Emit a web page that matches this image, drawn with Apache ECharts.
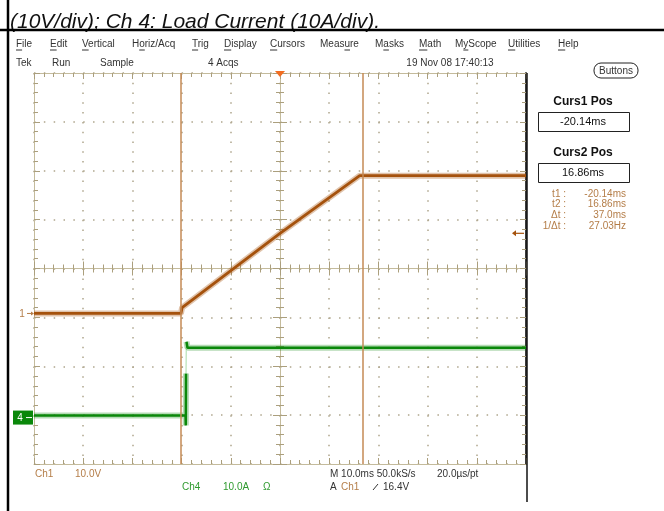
<!DOCTYPE html>
<html>
<head>
<meta charset="utf-8">
<script src="https://cdn.jsdelivr.net/npm/echarts@6/dist/echarts.min.js"></script>
<style>
  html, body { margin: 0; padding: 0; background: #fff; }
  #main { width: 664px; height: 511px; }
</style>
</head>
<body>
<div id="main"></div>
<script>
// ---- data ----
// time in ms (10 ms/div, trigger at 0)
var ch1Time = [-50, -20.14, -19.9, 0, 16.2, 50];
var ch1Volts = [0, 0, 1.2, 16.4, 28.2, 28.2];          // Ch1 10 V/div
var ch4LowTime = [-50, -19.2, -19.15, -19.1];
var ch4LowAmps = [0.4, 0.4, -1.6, 9.0];                // Ch4 10 A/div
var ch4EdgeTime = [-19.1, -19.05];
var ch4EdgeAmps = [9.0, 15.5];
var ch4HighTime = [-19.0, -18.8, 50];
var ch4HighAmps = [15.5, 14.3, 14.3];
var cursorTimes = [-20.14, 16.86];
var triggerLevel = 16.4;   // V on Ch1
var ch1GroundDiv = -0.92;  // ground marker, divisions from centre
var ch4GroundDiv = -3.05;

var menuItems = ["File", "Edit", "Vertical", "Horiz/Acq", "Trig", "Display", "Cursors",
  "Measure", "Masks", "Math", "MyScope", "Utilities", "Help"];
var menuX = [16, 50, 82, 132, 192, 224, 270, 320, 375, 419, 455, 508, 558];
var menuUnderline = [0, 0, 0, 1, 0, 0, 0, 4, 1, 0, 1, 0, 0];
var cursorLabels = ["t1 :", "t2 :", "\u0394t :", "1/\u0394t :"];
var cursorValues = ["-20.14ms", "16.86ms", "37.0ms", "27.03Hz"];

var GRAT = "#c4bb9c";
var TICK = "#ab9f7d";
var DOT = "#aea58c";
var BROWN = "#a5520d";
var TAN = "#b47d48";
var CURSOR = "#c58a55";
var GREEN = "#0a880a";
var LGREEN = "#2f9a2f";
var TXT = "#333";
var UI_FONT = "10px 'Liberation Sans', Arial, sans-serif";

function pairs(xs, ys, f) {
  return xs.map(function (x, i) { return [x, f ? f(ys[i]) : ys[i]]; });
}

function axis(base, extra) {
  return echarts.util.merge(echarts.util.clone(base), extra, true);
}

var tickBase = {
  axisLabel: { show: false },
  splitLine: { show: false },
  axisLine: { show: true, onZero: false, lineStyle: { color: GRAT, width: 1 } },
  axisTick: { show: true, inside: true, length: 6, lineStyle: { color: TICK, width: 1 } },
  minorTick: { show: true, splitNumber: 5, length: 4, lineStyle: { color: TICK, width: 1 } }
};
var xBase = axis(tickBase, { type: "value", min: -50, max: 50, interval: 10 });
var yBase = axis(tickBase, { type: "value", min: -4, max: 4, interval: 1 });

var chart = echarts.init(document.getElementById("main"));

var option = {
  backgroundColor: "#fff",
  animation: false,
  grid: { left: 34, top: 73, width: 492, height: 391, containLabel: false },
  xAxis: [
    axis(xBase, { position: "bottom",
      splitLine: { show: true, lineStyle: { color: DOT, width: 1.5, type: [1.5, 8.28] } } }),
    axis(xBase, { position: "top" }),
    axis(xBase, { position: "bottom", axisLine: { onZero: true, onZeroAxisIndex: 0 },
      axisTick: { length: 7 } }),
    axis(xBase, { position: "bottom", axisLine: { onZero: true, onZeroAxisIndex: 0 },
      axisTick: { inside: false, length: 7 }, minorTick: { length: 4 } })
  ],
  yAxis: [
    axis(yBase, { position: "left",
      splitLine: { show: true, lineStyle: { color: DOT, width: 1.5, type: [1.5, 8.34] } } }),
    axis(yBase, { position: "right", axisLine: { lineStyle: { color: "#3a3a3a", width: 2 } } }),
    axis(yBase, { position: "left", axisLine: { onZero: true, onZeroAxisIndex: 0 },
      axisTick: { length: 7 } }),
    axis(yBase, { position: "left", axisLine: { onZero: true, onZeroAxisIndex: 0 },
      axisTick: { inside: false, length: 7 } }),
    // Ch1 volts: 10 V/div, ground at ch1GroundDiv
    { type: "value", show: false, min: (-4 - ch1GroundDiv) * 10, max: (4 - ch1GroundDiv) * 10 },
    // Ch4 amps: 10 A/div, ground at ch4GroundDiv
    { type: "value", show: false, min: (-4 - ch4GroundDiv) * 10, max: (4 - ch4GroundDiv) * 10 }
  ],
  series: [
    {
      type: "line", xAxisIndex: 0, yAxisIndex: 4, silent: true, showSymbol: false,
      data: pairs(ch1Time, ch1Volts),
      lineStyle: { color: CURSOR, width: 0 },
      markLine: {
        silent: true, symbol: ["none", "none"], label: { show: false },
        lineStyle: { color: CURSOR, width: 1.5, type: "solid" },
        data: cursorTimes.map(function (t) { return { xAxis: t }; })
      }
    },
    { type: "line", xAxisIndex: 0, yAxisIndex: 4, silent: true, showSymbol: false,
      data: pairs(ch1Time, ch1Volts), lineStyle: { color: BROWN, width: 6, opacity: 0.35 } },
    { type: "line", xAxisIndex: 0, yAxisIndex: 4, silent: true, showSymbol: false,
      data: pairs(ch1Time, ch1Volts), lineStyle: { color: BROWN, width: 2.8 } },
    { type: "line", xAxisIndex: 0, yAxisIndex: 5, silent: true, showSymbol: false,
      data: pairs(ch4LowTime, ch4LowAmps), lineStyle: { color: GREEN, width: 6, opacity: 0.3 } },
    { type: "line", xAxisIndex: 0, yAxisIndex: 5, silent: true, showSymbol: false,
      data: pairs(ch4LowTime, ch4LowAmps), lineStyle: { color: GREEN, width: 2.5 } },
    { type: "line", xAxisIndex: 0, yAxisIndex: 5, silent: true, showSymbol: false,
      data: pairs(ch4EdgeTime, ch4EdgeAmps), lineStyle: { color: "#a8dca8", width: 1 } },
    { type: "line", xAxisIndex: 0, yAxisIndex: 5, silent: true, showSymbol: false,
      data: pairs(ch4HighTime, ch4HighAmps), lineStyle: { color: GREEN, width: 6, opacity: 0.3 } },
    { type: "line", xAxisIndex: 0, yAxisIndex: 5, silent: true, showSymbol: false,
      data: pairs(ch4HighTime, ch4HighAmps), lineStyle: { color: GREEN, width: 2.5 } }
  ]
};
chart.setOption(option);

// ---- screen furniture, placed from the library's own scales ----
var ch1Zero = chart.convertToPixel({ yAxisIndex: 4 }, 0);
var ch4Zero = chart.convertToPixel({ yAxisIndex: 5 }, 0);
var trigY = chart.convertToPixel({ yAxisIndex: 4 }, triggerLevel);
var trigX = chart.convertToPixel({ xAxisIndex: 0 }, 0);
var gridRight = chart.convertToPixel({ xAxisIndex: 0 }, 50);

var measure = document.createElement("canvas").getContext("2d");
measure.font = UI_FONT;

function text(str, x, y, opts) {
  opts = opts || {};
  return {
    type: "text", silent: true, z: 100,
    style: {
      text: str, x: x, y: y,
      fill: opts.fill || TXT,
      font: opts.font || UI_FONT,
      align: opts.align || "left",
      verticalAlign: opts.valign || "middle"
    }
  };
}
function line(x1, y1, x2, y2, color, width) {
  return { type: "line", silent: true, z: 100,
    shape: { x1: x1, y1: y1, x2: x2, y2: y2 },
    style: { stroke: color, lineWidth: width } };
}

var g = [];
// caption from the document page, and page borders
g.push(text("(10V/div); Ch 4: Load Current (10A/div).", 10, 12,
  { font: "italic 21px 'Liberation Sans', Arial, sans-serif", fill: "#111", valign: "alphabetic" }));
g.push(line(0, 30, 664, 30, "#000", 2.5));
g.push(line(8, 0, 8, 511, "#000", 2.5));
g.push(line(527, 73, 527, 502, "#111", 1.5));

// menu bar
menuItems.forEach(function (m, i) {
  g.push(text(m, menuX[i], 44));
  var k = menuUnderline[i];
  var x0 = menuX[i] + measure.measureText(m.slice(0, k)).width;
  var w = measure.measureText(m.charAt(k)).width;
  g.push(line(x0, 50, x0 + w, 50, TXT, 1));
});

// status line
g.push(text("Tek", 16, 63));
g.push(text("Run", 52, 63));
g.push(text("Sample", 100, 63));
g.push(text("4 Acqs", 208, 63));
g.push(text("19 Nov 08 17:40:13", 450, 63, { align: "center" }));

// trigger position marker (top) and trigger level arrow (right)
g.push({ type: "polygon", silent: true, z: 100,
  shape: { points: [[trigX - 5, 71], [trigX + 5, 71], [trigX, 77]] },
  style: { fill: "#f26d21" } });
g.push(line(gridRight - 13, trigY, gridRight - 2, trigY, BROWN, 1.2));
g.push({ type: "polygon", silent: true, z: 100,
  shape: { points: [[gridRight - 14, trigY], [gridRight - 10, trigY - 3], [gridRight - 10, trigY + 3]] },
  style: { fill: BROWN } });

// ground markers
g.push(text("1", 22, ch1Zero + 1, { fill: TAN, align: "center" }));
g.push(line(27, ch1Zero, 32, ch1Zero, TAN, 1));
g.push({ type: "polygon", silent: true, z: 100,
  shape: { points: [[34, ch1Zero], [31, ch1Zero - 2], [31, ch1Zero + 2]] }, style: { fill: TAN } });
g.push({ type: "rect", silent: true, z: 99,
  shape: { x: 13, y: ch4Zero - 7, width: 20, height: 14 }, style: { fill: GREEN } });
g.push(text("4", 20, ch4Zero + 1, { fill: "#fff", align: "center" }));
g.push(line(26, ch4Zero, 32, ch4Zero, "#fff", 1));

// right panel
g.push({ type: "rect", silent: true, z: 100,
  shape: { x: 594, y: 63, width: 44, height: 15, r: 7 },
  style: { fill: "#fff", stroke: "#222", lineWidth: 1 } });
g.push(text("Buttons", 616, 71, { align: "center" }));
var BOLD = "bold 12px 'Liberation Sans', Arial, sans-serif";
var VAL = "11px 'Liberation Sans', Arial, sans-serif";
g.push(text("Curs1 Pos", 583, 102, { font: BOLD, fill: "#111", align: "center" }));
g.push({ type: "rect", silent: true, z: 100,
  shape: { x: 538.5, y: 112.5, width: 91, height: 19 },
  style: { fill: "#fff", stroke: "#222", lineWidth: 1 } });
g.push(text("-20.14ms", 583, 122, { font: VAL, fill: "#111", align: "center" }));
g.push(text("Curs2 Pos", 583, 153, { font: BOLD, fill: "#111", align: "center" }));
g.push({ type: "rect", silent: true, z: 100,
  shape: { x: 538.5, y: 163.5, width: 91, height: 19 },
  style: { fill: "#fff", stroke: "#222", lineWidth: 1 } });
g.push(text("16.86ms", 583, 173, { font: VAL, fill: "#111", align: "center" }));
cursorLabels.forEach(function (lab, i) {
  var y = 194 + i * 10.7;
  g.push(text(lab, 566, y, { fill: TAN, align: "right" }));
  g.push(text(cursorValues[i], 626, y, { fill: TAN, align: "right" }));
});

// bottom readouts
g.push(text("Ch1", 35, 474, { fill: TAN }));
g.push(text("10.0V", 75, 474, { fill: TAN }));
g.push(text("Ch4", 182, 487, { fill: LGREEN }));
g.push(text("10.0A", 223, 487, { fill: LGREEN }));
g.push(text("\u03a9", 263, 487, { fill: LGREEN }));
g.push(text("M 10.0ms 50.0kS/s", 330, 474));
g.push(text("20.0\u00b5s/pt", 437, 474));
g.push(text("A", 330, 487));
g.push(text("Ch1", 341, 487, { fill: TAN }));
g.push(line(373, 490, 378, 484, TXT, 1));
g.push(text("16.4V", 383, 487));

chart.setOption({ graphic: g });
</script>
</body>
</html>
